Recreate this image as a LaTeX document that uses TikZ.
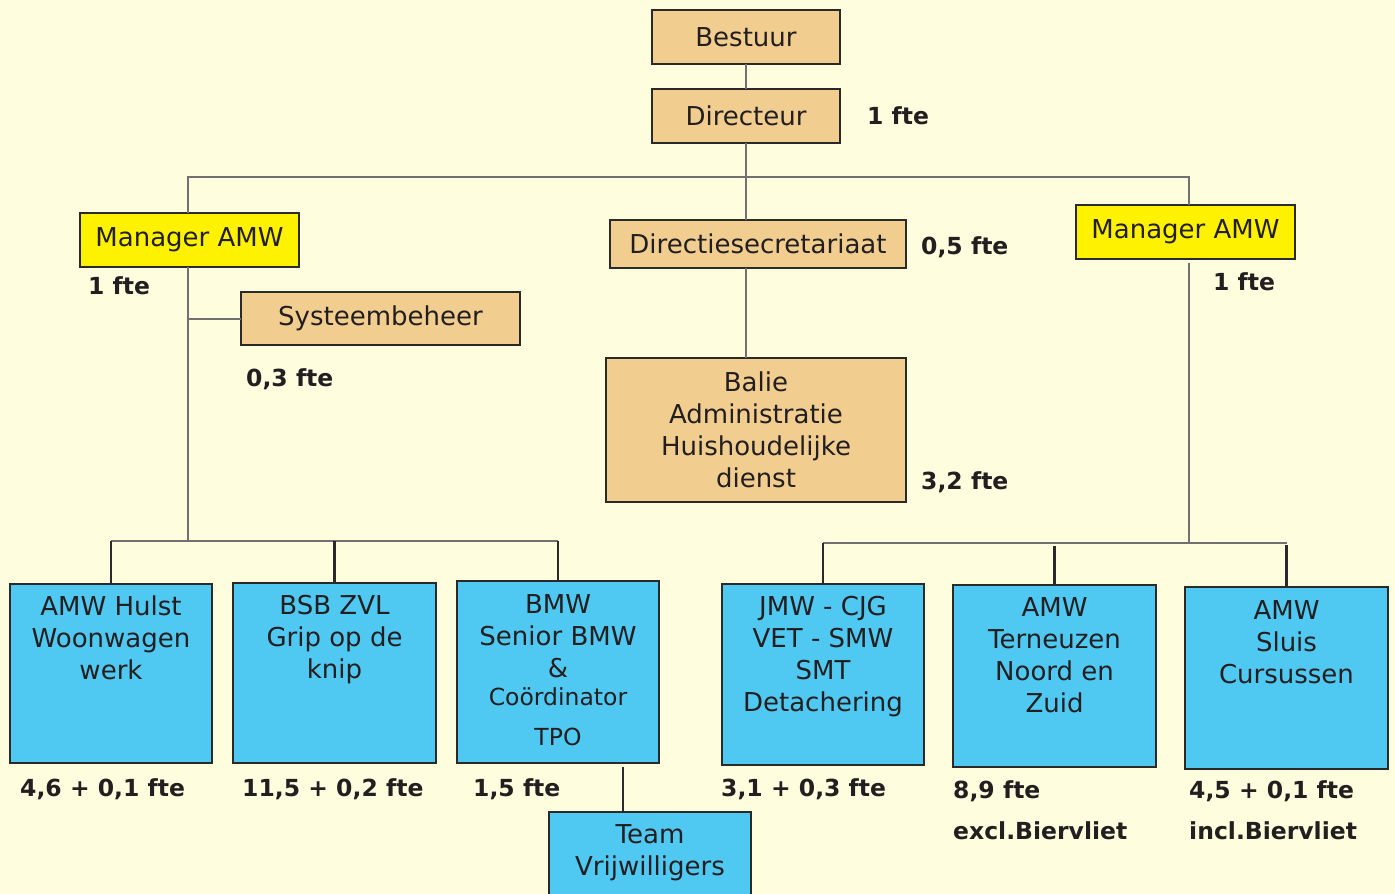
\documentclass[tikz,border=0pt]{standalone}
\usepackage{fontspec}
\setmainfont{DejaVu Sans}
\definecolor{bgc}{HTML}{FEFEDF}
\definecolor{tanc}{HTML}{F1CE90}
\definecolor{yelc}{HTML}{FFF200}
\definecolor{bluec}{HTML}{4FC8F2}
\definecolor{ink}{HTML}{231F20}
\definecolor{grayline}{HTML}{717171}
\definecolor{boxline}{HTML}{2A2A2A}
\begin{document}
\begin{tikzpicture}[x=1pt,y=-1pt,
  box/.style={draw=boxline, line width=1.3pt, inner sep=0pt, outer sep=0pt,
    font=\fontsize{26}{32}\selectfont, text=ink, align=center},
  tanbox/.style={box, fill=tanc},
  yelbox/.style={box, fill=yelc},
  bluebox/.style={box, fill=bluec},
  boxtext/.style={font=\fontsize{26}{32}\selectfont, text=ink, align=center, inner sep=0pt, anchor=north},
  fte/.style={font=\bfseries\fontsize{23.5}{41}\selectfont, text=ink, anchor=west, inner sep=0pt, align=left},
  conn/.style={draw=grayline, line width=2pt},
  drop/.style={draw=boxline, line width=2.2pt}
]
\fill[bgc] (0,0) rectangle (1395,894);
\useasboundingbox (0,0) rectangle (1395,894);

% top level
\node[tanbox, minimum width=188, minimum height=54] (bestuur) at (746,37) {Bestuur};
\node[tanbox, minimum width=188, minimum height=54] (directeur) at (746,116) {Directeur};
\node[fte] (f0) at (867,116) {1 fte};

\node[yelbox, minimum width=219, minimum height=54] (mgrL) at (189.5,240) {Manager AMW};
\node[fte] (f1) at (88,286) {1 fte};
\node[tanbox, minimum width=296, minimum height=48] (dirsec) at (758,244) {Directiesecretariaat};
\node[fte] (f2) at (921,247) {0,5 fte};
\node[yelbox, minimum width=219, minimum height=54] (mgrR) at (1185.5,232) {Manager AMW};
\node[fte] (f3) at (1213,282) {1 fte};

\node[tanbox, minimum width=279, minimum height=53] (sys) at (380.5,318.5) {Systeembeheer};
\node[fte] (f4) at (246,379) {0,3 fte};

\node[tanbox, minimum width=300, minimum height=144] (balie) at (756,430) {Balie\\Administratie\\Huishoudelijke\\dienst};
\node[fte] (f5) at (921,482) {3,2 fte};

% bottom boxes
\node[bluebox, minimum width=202, minimum height=179] (hulst) at (111,673.5) {};
\node[boxtext, yshift=-12pt] (thulst) at (hulst.north) {AMW Hulst\\Woonwagen\\werk};
\node[fte] (f6) at (20,789) {4,6 + 0,1 fte};

\node[bluebox, minimum width=203, minimum height=180] (bsb) at (334.5,673) {};
\node[boxtext, yshift=-12pt] (tbsb) at (bsb.north) {BSB ZVL\\Grip op de\\knip};
\node[fte] (f7) at (242,789) {11,5 + 0,2 fte};

\node[bluebox, minimum width=202, minimum height=182] (bmw) at (558,672) {};
\node[boxtext, yshift=-13pt] (tbmw) at (bmw.north) {BMW\\Senior BMW\\\&\\[-3.5pt]{\fontsize{23.5}{28}\selectfont Coördinator}\\[8pt]{\fontsize{23.5}{28}\selectfont TPO}};
\node[fte] (f8) at (473,789) {1,5 fte};

\node[bluebox, minimum width=202, minimum height=100] (team) at (650,862) {};
\node[boxtext, yshift=-12pt] (tteam) at (team.north) {Team\\Vrijwilligers};

\node[bluebox, minimum width=202, minimum height=181] (jmw) at (823,674.5) {};
\node[boxtext, yshift=-12pt] (tjmw) at (jmw.north) {JMW - CJG\\VET - SMW\\SMT\\Detachering};
\node[fte] (f9) at (721,789) {3,1 + 0,3 fte};

\node[bluebox, minimum width=203, minimum height=182] (tern) at (1054.5,676) {};
\node[boxtext, yshift=-12pt] (ttern) at (tern.north) {AMW\\Terneuzen\\Noord en\\Zuid};
\node[fte, anchor=north west] (f10) at (953,780) {8,9 fte\\excl.Biervliet};

\node[bluebox, minimum width=203, minimum height=182] (sluis) at (1286.5,678) {};
\node[boxtext, yshift=-13pt] (tsluis) at (sluis.north) {AMW\\Sluis\\Cursussen};
\node[fte, anchor=north west] (f11) at (1189,780) {4,5 + 0,1 fte\\incl.Biervliet};

% connectors
\coordinate (j0) at (746,177);
\coordinate (jL) at (188,541);
\coordinate (jR) at (1189,543);
\coordinate (tv) at (623,0);

\draw[conn] (bestuur) -- (directeur);
\draw[conn] (directeur.south) -- (j0);
\draw[conn] (mgrL.north -| jL) |- (j0) -| (mgrR.north -| jR);
\draw[conn] (j0) -- (j0 |- dirsec.north);
\draw[conn] (j0 |- dirsec.south) -- (j0 |- balie.north);

\draw[conn] (mgrL.south -| jL) -- (jL);
\draw[conn] (jL |- sys.west) -- (sys.west);
\draw[conn] (hulst.north |- jL) -- (bmw.north |- jL);
\draw[drop] (hulst.north |- jL) -- (hulst.north);
\draw[drop] (bsb.north |- jL) -- (bsb.north);
\draw[drop] (bmw.north |- jL) -- (bmw.north);
\draw[drop] (tv |- bmw.south) ++(0,4) -- (tv |- team.north);

\draw[conn] (mgrR.south -| jR) ++(0,4) -- (jR);
\draw[conn] (jmw.north |- jR) -- (sluis.north |- jR);
\draw[drop] (jmw.north |- jR) -- (jmw.north);
\draw[drop] (tern.north |- jR) ++(0,3) -- (tern.north);
\draw[drop] (sluis.north |- jR) ++(0,2) -- (sluis.north);
\end{tikzpicture}
\end{document}
